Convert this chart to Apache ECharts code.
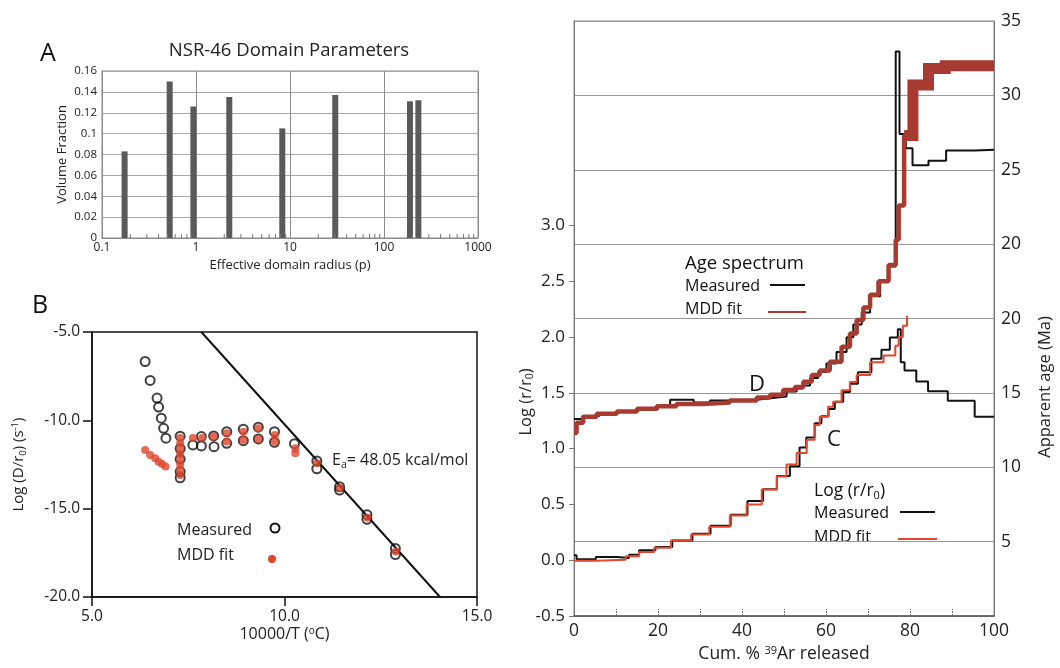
<!DOCTYPE html>
<html><head><meta charset="utf-8">
<script src="https://cdn.jsdelivr.net/npm/echarts@6/dist/echarts.min.js"></script>
<style>html,body{margin:0;padding:0;background:#fff}#c{width:1060px;height:668px}</style>
</head><body><div id="c"></div>
<script>
// ---------- Panel A: domain parameters ----------
const domainRadius   = [0.174, 0.525, 0.938, 2.26, 8.28, 30.3, 189, 232];
const volumeFraction = [0.083, 0.150, 0.126, 0.135, 0.105, 0.137, 0.131, 0.132];
const radiusMinorTicks = [0.2,0.3,0.4,0.5,0.6,0.7,0.8,0.9, 2,3,4,5,6,7,8,9, 20,30,40,50,60,70,80,90, 200,300,400,500,600,700,800,900];

// ---------- Panel B: Arrhenius plot ----------
const measuredInvT = [6.38,6.51,6.69,6.73,6.80,6.86,6.92, 7.29,7.29,7.29,7.29,7.29, 7.62,7.84,7.84,8.16,8.17,8.50,8.50,8.93,8.93,9.32,9.32,9.74,9.74,10.26,10.84,10.84,11.43,11.43,12.14,12.14,12.88,12.88];
const measuredLogD = [-6.67,-7.74,-8.74,-9.25,-9.88,-10.45,-11.01, -10.9,-11.6,-12.2,-12.9,-13.25, -11.39,-10.92,-11.45,-10.88,-11.49,-10.64,-11.30,-10.50,-11.15,-10.39,-11.05,-10.64,-11.24,-11.32,-12.30,-12.74,-13.76,-13.95,-15.34,-15.60,-17.25,-17.60];
const fitInvT = [6.38,6.51,6.64,6.73,6.82,6.91, 7.29,7.29,7.29,7.29,7.29,7.29,7.29,7.29, 7.62,7.86,8.16,8.50,8.50,8.93,8.93,9.32,9.32,9.75,9.75,10.28,10.28,10.84,11.44,12.15,12.89];
const fitLogD = [-11.68,-11.96,-12.15,-12.34,-12.47,-12.62, -11.0,-11.3,-11.6,-11.9,-12.2,-12.5,-12.8,-13.1, -11.0,-11.0,-10.92,-10.73,-11.2,-10.64,-11.11,-10.45,-11.05,-10.83,-11.2,-11.58,-11.86,-12.43,-13.83,-15.52,-17.42];
const eaLineInvT = [7.84, 14.04];
const eaLineLogD = [-5.0, -20.0];

// ---------- Right panel: age spectrum (D) and log(r/r0) (C) ----------
const logRMeasCum = [0,0.6,5.2,10.3,13.1,15.5,19.4,23.4,28.2,32.5,37.3,41.3,45.0,48.3,51.4,53.7,55.3,57.3,58.9,60.6,62.1,64.1,65.7,67.6,70.8,73.2,75.2,77.1,77.8,78.7,81.5,84.3,89.0,95.4,100];
const logRMeasVal = [0.044,0.009,0.03,0.021,0.05,0.089,0.119,0.177,0.237,0.31,0.408,0.532,0.636,0.754,0.843,1.011,1.10,1.227,1.29,1.354,1.419,1.508,1.582,1.685,1.804,1.886,1.995,2.07,1.774,1.70,1.602,1.514,1.428,1.286,1.286];
const logRFitCum = [0,5.2,12.3,15.5,19.1,23.1,27.9,32.2,37.1,41.1,44.7,48.3,50.6,53.0,55.4,57.3,58.5,60.5,61.7,63.7,65.7,67.3,70.5,73.7,76.5,77.3,78.3,79.3];
const logRFitVal = [-0.005,0.005,0.036,0.074,0.113,0.177,0.23,0.30,0.40,0.50,0.633,0.75,0.857,0.96,1.079,1.212,1.286,1.374,1.419,1.523,1.596,1.66,1.774,1.833,1.922,2.0,2.1,2.19];
const ageMeasCum = [0,2,6,10,15,20,22.9,28.5,32.4,37.1,41,44,46.7,50.6,53,54.6,56.2,58.1,60.1,62.5,64.9,66.5,68.5,70.5,72.9,74.9,76.6,77.5,79.0,80.6,84.4,88.6,95.5,100];
const ageMeasVal = [13.25,13.45,13.6,13.75,13.9,14.05,14.55,14.35,14.5,14.5,14.55,14.65,14.76,15.1,15.3,15.5,16.0,16.4,16.98,17.76,18.75,19.6,20.4,21.5,22.5,23.5,37.95,32.4,31.45,30.3,30.6,31.3,31.35,31.35];
const ageFitCum = [0,0.6,2.2,5.4,10.2,15,19.7,24.4,30.8,37.1,43.5,46.7,49.8,52.6,54.6,56.6,58.5,60.9,63.7,65.7,67.3,68.9,70.5,72.5,74.9,76.6,77.3,78.6,80.7,84.4,88.4,100];
const ageFitVal = [12.3,13.0,13.4,13.6,13.76,13.94,14.1,14.25,14.36,14.5,14.7,14.87,15.2,15.4,15.76,16.2,16.5,17.1,18.1,19.0,19.9,20.75,21.6,22.5,23.6,25.3,27.6,32.3,35.7,36.8,37.0,37.0];
const ageTickValues = [5,10,15,20,25,30,35,40];
const ageTickLabels = ['5','10','15','20','20','25','30','35'];
const logRTickValues = [-0.5,0,0.5,1,1.5,2,2.5,3];
const cumLabelValues = [0,20,40,60,80,100];
const cumTickValues = [10,20,30,40,50,60,70,80,90];

const zip = (a, b) => a.map((v, i) => [v, b[i]]);
const FONT = '"Open Sans", sans-serif';
const RED_D = '#a83b31';
const RED_C = '#e8462c';
const RED_B = '#e0452b';

const chart = echarts.init(document.getElementById('c'), null, {renderer: 'canvas'});
const ageFitData = zip(ageFitCum, ageFitVal);
const thickStart = ageFitCum.indexOf(78.6);

const option = {
  animation: false,
  backgroundColor: '#fff',
  textStyle: {fontFamily: FONT},
  grid: [
    {left: 102, top: 71, width: 376, height: 167, show: true, borderColor: '#8a8a8a', borderWidth: 1, backgroundColor: '#fff'},
    {left: 92, top: 332, width: 385, height: 265, show: true, borderColor: '#111', borderWidth: 1.5},
    {left: 574, top: 21, width: 420, height: 601, show: true, borderColor: '#8a8a8a', borderWidth: 1}
  ],
  xAxis: [
    {type: 'log', gridIndex: 0, logBase: 10, min: 0.1, max: 1000,
     name: 'Effective domain radius (p)', nameLocation: 'middle', nameGap: 21,
     nameTextStyle: {fontSize: 13, color: '#222', fontFamily: FONT},
     axisLine: {onZero: false, lineStyle: {color: '#8a8a8a'}}, axisTick: {show: false},
     axisLabel: {fontSize: 12, color: '#222', margin: 4, fontFamily: FONT, formatter: v => String(v)},
     splitLine: {show: true, lineStyle: {color: '#8a8a8a', width: 1}}},
    {type: 'value', gridIndex: 1, min: 5, max: 15, interval: 5,
     name: '10000/T ({sup|o}C)', nameLocation: 'middle', nameGap: 28,
     nameTextStyle: {fontSize: 16, color: '#222', fontFamily: FONT, rich: {sup: {fontSize: 10, padding: [0, 0, 7, 0], fontFamily: FONT}}},
     axisLine: {onZero: false, lineStyle: {color: '#111', width: 1.5}},
     axisTick: {show: true, inside: false, length: 9, lineStyle: {color: '#111', width: 1.5}},
     axisLabel: {fontSize: 15.5, color: '#222', margin: 12, fontFamily: FONT, formatter: v => v.toFixed(1)},
     splitLine: {show: false}},
    {type: 'value', gridIndex: 2, min: 0, max: 100, interval: 10,
     name: 'Cum. % {sup|39}Ar released', nameLocation: 'middle', nameGap: 27,
     nameTextStyle: {fontSize: 17.5, color: '#222', fontFamily: FONT, rich: {sup: {fontSize: 11, padding: [0, 0, 7, 0], fontFamily: FONT}}},
     axisLine: {onZero: false, lineStyle: {color: '#555', width: 1.5}},
     axisTick: {show: true, inside: true, length: 7, customValues: cumTickValues, lineStyle: {color: '#666', width: 1, type: [2, 1]}},
     axisLabel: {fontSize: 17.5, color: '#222', margin: 6, customValues: cumLabelValues, fontFamily: FONT},
     splitLine: {show: false}}
  ],
  yAxis: [
    {type: 'value', gridIndex: 0, min: 0, max: 0.16, interval: 0.02,
     name: 'Volume Fraction', nameLocation: 'middle', nameGap: 33,
     nameTextStyle: {fontSize: 13, color: '#222', fontFamily: FONT},
     axisLine: {show: true, onZero: false, lineStyle: {color: '#8a8a8a'}}, axisTick: {show: false},
     axisLabel: {fontSize: 11.5, color: '#222', margin: 5, fontFamily: FONT},
     splitLine: {show: true, lineStyle: {color: '#a8a8a8', width: 1}}},
    {type: 'value', gridIndex: 1, min: -20, max: -5, interval: 5,
     name: 'Log (D/r{sub|0}) (s{sup|-1})', nameLocation: 'middle', nameGap: 64,
     nameTextStyle: {fontSize: 15, color: '#222', fontFamily: FONT,
       rich: {sub: {fontSize: 9.5, padding: [8, 0, 0, 0], fontFamily: FONT}, sup: {fontSize: 9.5, padding: [0, 0, 8, 0], fontFamily: FONT}}},
     axisLine: {show: true, onZero: false, lineStyle: {color: '#111', width: 1.5}},
     axisTick: {show: true, inside: false, length: 9, lineStyle: {color: '#111', width: 1.5}},
     axisLabel: {fontSize: 15.5, color: '#222', margin: 12, fontFamily: FONT, formatter: v => v.toFixed(1)},
     splitLine: {show: false}},
    {type: 'value', gridIndex: 2, position: 'left', min: -0.5, max: 4.83, interval: 0.5,
     axisLine: {show: true, onZero: false, lineStyle: {color: '#777', width: 1}},
     axisTick: {show: true, inside: false, length: 5, customValues: logRTickValues, lineStyle: {color: '#777'}},
     axisLabel: {fontSize: 17, color: '#222', margin: 9, customValues: logRTickValues, fontFamily: FONT, formatter: v => v.toFixed(1)},
     splitLine: {show: false}},
    {type: 'value', gridIndex: 2, position: 'right', min: 0, max: 40, interval: 5,
     axisLine: {show: true, onZero: false, lineStyle: {color: '#777', width: 1}},
     axisTick: {show: false},
     axisLabel: {fontSize: 17.5, color: '#222', margin: 7, customValues: ageTickValues, fontFamily: FONT,
       formatter: v => ageTickLabels[ageTickValues.indexOf(v)]},
     splitLine: {show: true, lineStyle: {color: '#9a9a9a', width: 1}}}
  ],
  series: [
    {type: 'custom', xAxisIndex: 0, yAxisIndex: 0, data: zip(domainRadius, volumeFraction),
     renderItem: (params, api) => {
       const top = api.coord([api.value(0), api.value(1)]);
       const base = api.coord([api.value(0), 0]);
       return {type: 'rect', shape: {x: top[0] - 3, y: top[1], width: 6, height: base[1] - top[1]}, style: {fill: '#5a5a5a'}};
     }, z: 3},
    {type: 'custom', xAxisIndex: 0, yAxisIndex: 0, data: radiusMinorTicks.map(v => [v, 0]), silent: true,
     renderItem: (params, api) => {
       const p = api.coord([api.value(0), 0]);
       return {type: 'line', shape: {x1: p[0], y1: p[1], x2: p[0], y2: p[1] - 4}, style: {stroke: '#777', lineWidth: 1}};
     }, z: 3},
    {type: 'line', xAxisIndex: 1, yAxisIndex: 1, data: zip(eaLineInvT, eaLineLogD), showSymbol: false, symbol: 'none',
     lineStyle: {color: '#111', width: 2}, z: 2},
    {type: 'scatter', name: 'Measured', xAxisIndex: 1, yAxisIndex: 1, data: zip(measuredInvT, measuredLogD),
     symbol: 'circle', symbolSize: 9, itemStyle: {color: 'rgba(255,255,255,0)', borderColor: '#111', borderWidth: 2}, z: 3},
    {type: 'scatter', name: 'MDD fit', xAxisIndex: 1, yAxisIndex: 1, data: zip(fitInvT, fitLogD),
     symbol: 'circle', symbolSize: 8, itemStyle: {color: RED_B}, z: 4},
    {type: 'line', xAxisIndex: 2, yAxisIndex: 3, data: zip(ageMeasCum, ageMeasVal), step: 'end', symbol: 'none',
     lineStyle: {color: '#111', width: 2}, z: 3},
    {type: 'line', xAxisIndex: 2, yAxisIndex: 3, data: ageFitData, step: 'end', symbol: 'none',
     lineStyle: {color: RED_D, width: 4.5}, z: 4},
    {type: 'line', xAxisIndex: 2, yAxisIndex: 3, data: ageFitData.slice(thickStart), step: 'end', symbol: 'none',
     lineStyle: {color: RED_D, width: 11, join: 'miter'}, z: 4},
    {type: 'line', xAxisIndex: 2, yAxisIndex: 2, data: zip(logRMeasCum, logRMeasVal), step: 'end', symbol: 'none',
     lineStyle: {color: '#111', width: 2}, z: 3},
    {type: 'line', xAxisIndex: 2, yAxisIndex: 2, data: zip(logRFitCum, logRFitVal), step: 'end', symbol: 'none',
     lineStyle: {color: RED_C, width: 2}, z: 4}
  ],
  graphic: [
    {type: 'text', left: 40, top: 41, style: {text: 'A', font: '25px ' + FONT, fill: '#111'}},
    {type: 'text', x: 289, y: 51, style: {text: 'NSR-46 Domain Parameters', font: '18.5px ' + FONT, fill: '#222', align: 'center', verticalAlign: 'middle'}},
    {type: 'text', left: 32, top: 293, style: {text: 'B', font: '25px ' + FONT, fill: '#111'}},
    {type: 'text', x: 332, y: 460, style: {text: 'E{sub|a}= 48.05 kcal/mol', font: '16px ' + FONT, fill: '#222', verticalAlign: 'middle',
      rich: {sub: {fontSize: 10.5, padding: [10, 0, 0, 0], fontFamily: FONT}}}},
    {type: 'text', x: 177, y: 530, style: {text: 'Measured', font: '16px ' + FONT, fill: '#222', verticalAlign: 'middle'}},
    {type: 'text', x: 177, y: 555, style: {text: 'MDD fit', font: '16px ' + FONT, fill: '#222', verticalAlign: 'middle'}},
    {type: 'circle', shape: {cx: 275, cy: 528, r: 4.5}, style: {fill: 'none', stroke: '#111', lineWidth: 2}},
    {type: 'circle', shape: {cx: 272, cy: 559, r: 4}, style: {fill: RED_B}},
    {type: 'text', x: 526, y: 402, rotation: Math.PI / 2, style: {text: 'Log (r/r{sub|0})', font: '16.5px ' + FONT, fill: '#222', align: 'center', verticalAlign: 'middle',
      rich: {sub: {fontSize: 10.5, padding: [9, 0, 0, 0], fontFamily: FONT}}}},
    {type: 'text', x: 1045, y: 387, rotation: Math.PI / 2, style: {text: 'Apparent age (Ma)', font: '16.5px ' + FONT, fill: '#222', align: 'center', verticalAlign: 'middle'}},
    {type: 'text', x: 685, y: 264, style: {text: 'Age spectrum', font: '18.5px ' + FONT, fill: '#111', verticalAlign: 'middle'}},
    {type: 'text', x: 685, y: 286, style: {text: 'Measured', font: '16px ' + FONT, fill: '#111', verticalAlign: 'middle'}},
    {type: 'line', shape: {x1: 770, y1: 285, x2: 805, y2: 285}, style: {stroke: '#111', lineWidth: 2}},
    {type: 'text', x: 685, y: 309, style: {text: 'MDD fit', font: '16px ' + FONT, fill: '#111', verticalAlign: 'middle'}},
    {type: 'line', shape: {x1: 768, y1: 312, x2: 806, y2: 312}, style: {stroke: RED_D, lineWidth: 2}},
    {type: 'text', x: 757, y: 385, style: {text: 'D', font: '22px ' + FONT, fill: '#111', align: 'center', verticalAlign: 'middle'}},
    {type: 'text', x: 834, y: 440, style: {text: 'C', font: '22px ' + FONT, fill: '#111', align: 'center', verticalAlign: 'middle'}},
    {type: 'text', x: 814, y: 491, style: {text: 'Log (r/r{sub|0})', font: '17.5px ' + FONT, fill: '#111', verticalAlign: 'middle',
      rich: {sub: {fontSize: 11, padding: [10, 0, 0, 0], fontFamily: FONT}}}},
    {type: 'text', x: 814, y: 513, style: {text: 'Measured', font: '16px ' + FONT, fill: '#111', verticalAlign: 'middle'}},
    {type: 'line', shape: {x1: 900, y1: 512, x2: 935, y2: 512}, style: {stroke: '#111', lineWidth: 2}},
    {type: 'text', x: 814, y: 537, style: {text: 'MDD fit', font: '16px ' + FONT, fill: '#111', verticalAlign: 'middle'}},
    {type: 'line', shape: {x1: 898, y1: 539, x2: 937, y2: 539}, style: {stroke: RED_C, lineWidth: 2}}
  ]
};
chart.setOption(option);
</script>
</body></html>
